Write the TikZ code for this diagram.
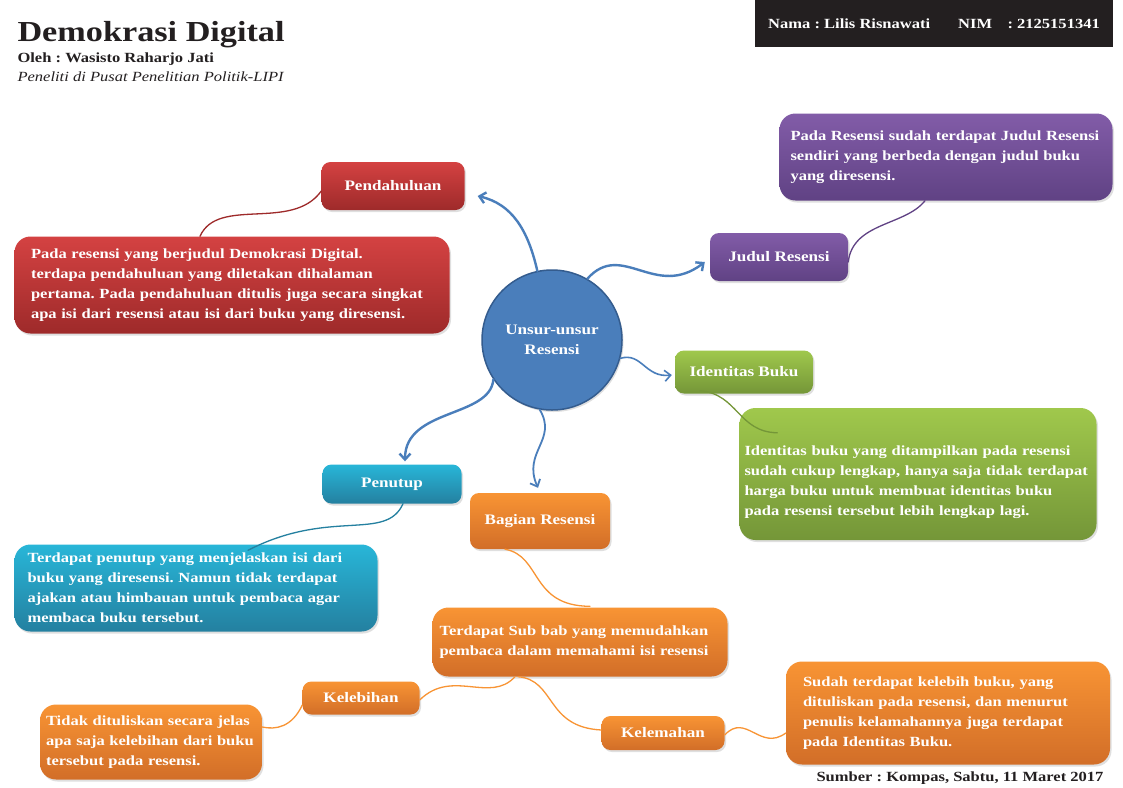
\documentclass[tikz,border=0pt]{standalone}
\usepackage{fontspec}
\setmainfont{Liberation Serif}[FakeStretch=1.18]
\usepackage{xcolor}
\usetikzlibrary{arrows.meta, shadows}
\definecolor{ink}{RGB}{35,31,32}
\definecolor{redhi}{RGB}{212,66,66}
\definecolor{redlo}{RGB}{158,42,42}
\definecolor{violethi}{RGB}{130,92,168}
\definecolor{violetlo}{RGB}{96,66,132}
\definecolor{limehi}{RGB}{160,200,76}
\definecolor{limelo}{RGB}{116,150,56}
\definecolor{cyanhi}{RGB}{40,182,216}
\definecolor{cyanlo}{RGB}{36,128,160}
\definecolor{amberhi}{RGB}{248,148,52}
\definecolor{amberlo}{RGB}{210,110,40}
\definecolor{hubblue}{RGB}{74,126,187}
\definecolor{hubedge}{RGB}{52,92,142}
\frenchspacing

\begin{document}
\begin{tikzpicture}[
    x=1pt, y=-1pt,
    tag/.style={rounded corners=9pt, text=white, inner sep=0pt,
                font=\fontsize{14.5}{17}\selectfont\bfseries,
                drop shadow={opacity=0.25, shadow xshift=1.5pt, shadow yshift=-2pt}},
    note/.style={tag, rounded corners=16pt, align=left,
                 font=\fontsize{14}{20}\selectfont\bfseries},
    reds/.style={top color=redhi, bottom color=redlo},
    violets/.style={top color=violethi, bottom color=violetlo},
    limes/.style={top color=limehi, bottom color=limelo},
    cyans/.style={top color=cyanhi, bottom color=cyanlo},
    ambers/.style={top color=amberhi, bottom color=amberlo},
    hub/.style={circle, fill=hubblue, draw=hubedge, line width=1.5pt, text=white,
                minimum size=140pt, align=center, font=\fontsize{14.5}{20}\selectfont\bfseries,
                drop shadow={opacity=0.25, shadow xshift=1.5pt, shadow yshift=-2pt}},
    arr/.style={-{Straight Barb[length=6pt, width=11pt]}, draw=hubblue, line width=2.4pt, line cap=round},
    link/.style={line width=1.3pt, line cap=round}
  ]
  \fill[white] (0,0) rectangle (1123,787);
  \useasboundingbox (0,0) rectangle (1123,787);

  \node[anchor=base west, text=ink, font=\fontsize{29}{34}\selectfont\bfseries] (title) at (14,41) {Demokrasi Digital};
  \node[anchor=base west, text=ink, font=\fontsize{14}{17}\selectfont\bfseries] (by) at (14,62) {Oleh : Wasisto Raharjo Jati};
  \node[anchor=base west, text=ink, font=\fontsize{14}{17}\selectfont\itshape] (role) at (14,81) {Peneliti di Pusat Penelitian Politik-LIPI};
  \node[fill=ink, text=white, minimum width=358pt, minimum height=47pt, inner sep=0pt,
        font=\fontsize{14}{17}\selectfont\bfseries] (id) at (934,23.5)
        {Nama : Lilis Risnawati\hspace{2em}NIM\hspace{1.1em}: 2125151341};
  \node[anchor=base east, text=ink, font=\fontsize{14}{17}\selectfont\bfseries] (src) at (1107,781) {Sumber : Kompas, Sabtu, 11 Maret 2017};

  \node[hub] (ctr) at (552,340) {Unsur-unsur\\Resensi};

  \node[tag, reds, minimum width=143pt, minimum height=48pt] (pend) at (393,186) {Pendahuluan};
  \node[tag, violets, minimum width=138pt, minimum height=48pt] (jud) at (779,257) {Judul Resensi};
  \node[tag, limes, minimum width=138pt, minimum height=43pt] (iden) at (744,372) {Identitas Buku};
  \node[tag, cyans, minimum width=139pt, minimum height=39pt] (pen) at (392,484) {Penutup};
  \node[tag, ambers, minimum width=140pt, minimum height=56pt] (bag) at (540,521) {Bagian Resensi};
  \node[tag, ambers, minimum width=117pt, minimum height=33pt] (leb) at (361,698) {Kelebihan};
  \node[tag, ambers, minimum width=123pt, minimum height=34pt] (lem) at (663,733) {Kelemahan};

  \node[note, reds, minimum width=435pt, minimum height=97pt, text width=402pt] (pendx) at (232,285)
    {Pada resensi yang berjudul Demokrasi Digital.\\terdapa pendahuluan yang diletakan dihalaman\\pertama. Pada pendahuluan ditulis juga secara singkat\\apa isi dari resensi atau isi dari buku yang diresensi.};
  \node[note, violets, minimum width=333pt, minimum height=87pt, text width=311pt] (judx) at (946,157)
    {Pada Resensi sudah terdapat Judul Resensi\\sendiri yang berbeda dengan judul buku\\yang diresensi.};
  \node[note, limes, minimum width=357pt, minimum height=132pt, text width=347pt] (idenx) at (918,474)
    {\\[6pt]Identitas buku yang ditampilkan pada resensi\\sudah cukup lengkap, hanya saja tidak terdapat\\harga buku untuk membuat identitas buku\\pada resensi tersebut lebih lengkap lagi.};
  \node[note, cyans, minimum width=363pt, minimum height=87pt, text width=337pt] (penx) at (196,588)
    {Terdapat penutup yang menjelaskan isi dari\\buku yang diresensi. Namun tidak terdapat\\ajakan atau himbauan untuk pembaca agar\\membaca buku tersebut.};
  \node[note, ambers, minimum width=295pt, minimum height=69pt, text width=281pt] (subx) at (580,642)
    {Terdapat Sub bab yang memudahkan\\pembaca dalam memahami isi resensi};
  \node[note, ambers, minimum width=222pt, minimum height=75pt, text width=210pt] (lebx) at (151,742)
    {Tidak dituliskan secara jelas\\apa saja kelebihan dari buku\\tersebut pada resensi.};
  \node[note, ambers, minimum width=324pt, minimum height=103pt, text width=290pt] (lemx) at (948,713)
    {Sudah terdapat kelebih buku, yang\\dituliskan pada resensi, dan menurut\\penulis kelamahannya juga terdapat\\pada Identitas Buku.};

  \draw[arr] (ctr.102) .. controls (528,230) and (512,204) .. ([shift={(13,10)}]pend.east);
  \draw[arr] (ctr.60) .. controls (622,240) and (655,300) .. ([shift={(-5,5)}]jud.west);
  \draw[arr, line width=1.6pt] (ctr.-15) .. controls (642,352) and (645,378) .. ([shift={(-3,3)}]iden.west);
  \draw[arr] (ctr.214) .. controls (490,418) and (405,408) .. ([shift={(13,-3)}]pen.north);
  \draw[arr, line width=1.8pt] (ctr.260) .. controls (558,440) and (522,452) .. ([shift={(-2,-5)}]bag.north);

  \draw[link, redlo] ([shift={(0,5)}]pend.west) .. controls (292,232) and (218,196) .. ([shift={(-32,0)}]pendx.north);
  \draw[link, violetlo] ([shift={(0,5)}]jud.east) .. controls (853,222) and (905,226) .. ([shift={(-21,0)}]judx.south);
  \draw[link, limelo] ([shift={(-44,-3)}]iden.south) .. controls (738,394) and (738,432) .. ([shift={(38,25)}]idenx.north west);
  \draw[link, cyanlo] ([shift={(11,0)}]pen.south) .. controls (386,542) and (330,508) .. ([shift={(52,6)}]penx.north);
  \draw[link, amberhi] ([shift={(-35,0)}]bag.south) .. controls (542,556) and (530,606) .. ([shift={(10,-1)}]subx.north);
  \draw[link, amberhi] ([shift={(-65,0)}]subx.south) .. controls (490,704) and (452,668) .. ([shift={(0,2)}]leb.east);
  \draw[link, amberhi] ([shift={(-62,0)}]subx.south) .. controls (556,680) and (545,727) .. ([shift={(0,-3)}]lem.west);
  \draw[link, amberhi] ([shift={(0,7)}]leb.west) .. controls (292,727) and (276,730) .. ([shift={(0,-15)}]lebx.east);
  \draw[link, amberhi] ([shift={(0,2)}]lem.east) .. controls (746,712) and (760,752) .. ([shift={(0,20)}]lemx.west);
\end{tikzpicture}
\end{document}
